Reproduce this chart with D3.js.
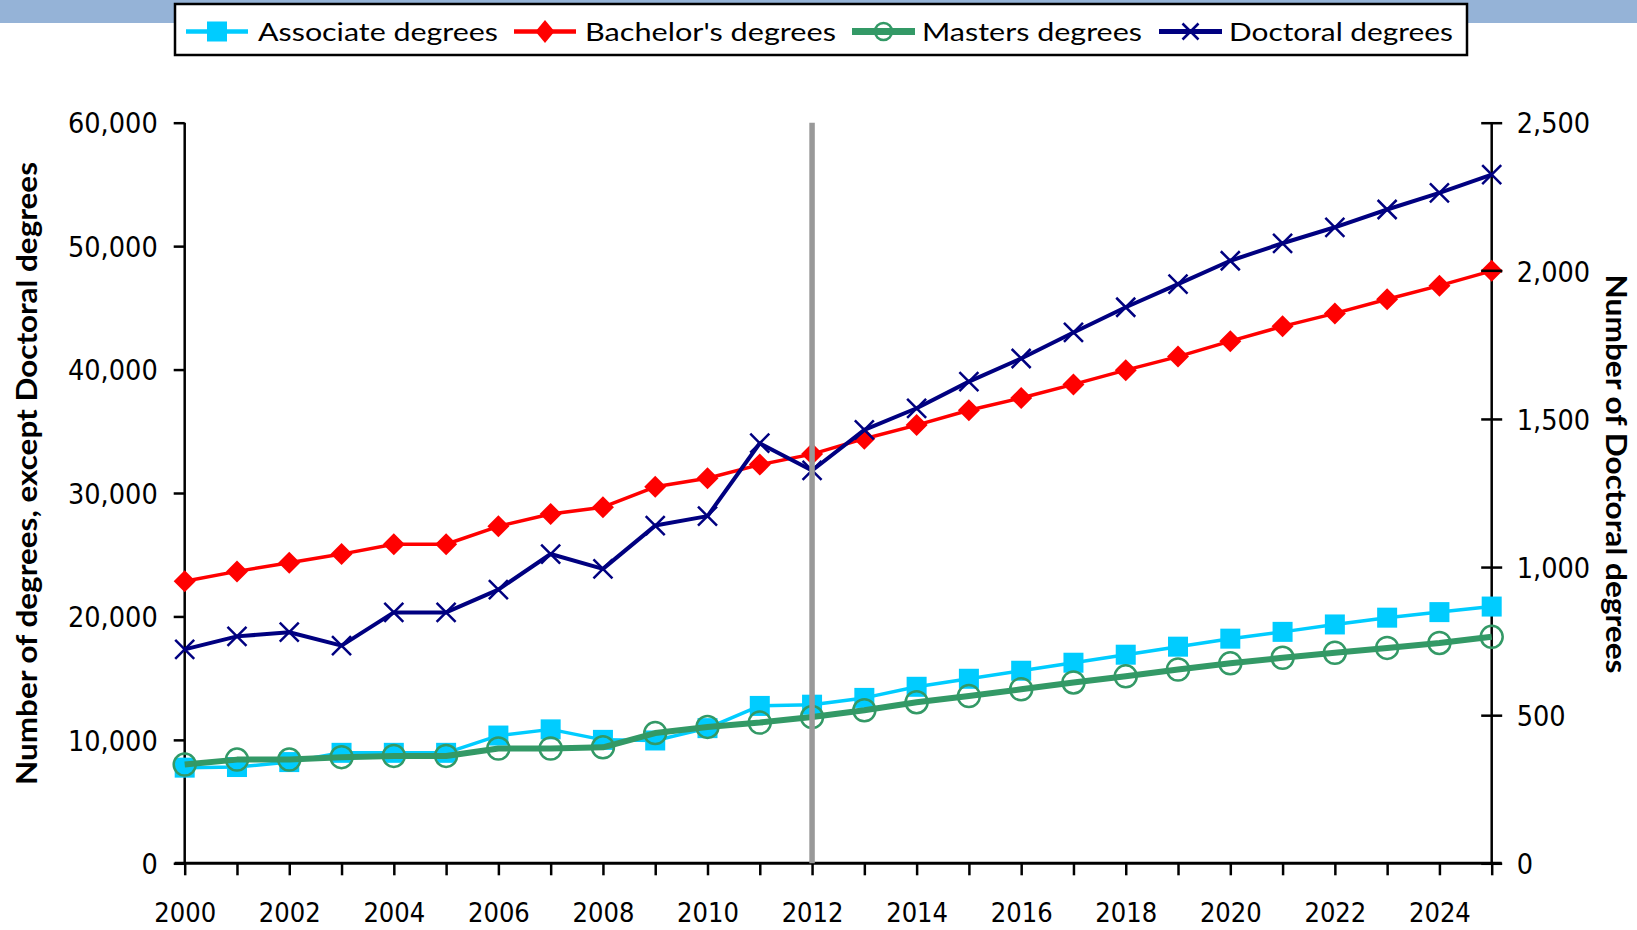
<!DOCTYPE html>
<html>
<head>
<meta charset="utf-8">
<script src="https://cdn.jsdelivr.net/npm/d3@7"></script>
<style>
  html, body { margin: 0; padding: 0; background: #ffffff; }
  svg { display: block; }
  .tick text { font-family: "DejaVu Sans Condensed", "DejaVu Sans", sans-serif; font-stretch: condensed; fill: #000; }
</style>
</head>
<body>
<svg id="chart" width="1637" height="930"></svg>
<script>
// ---------------- DATA ----------------
const years = [2000, 2001, 2002, 2003, 2004, 2005, 2006, 2007, 2008, 2009, 2010, 2011, 2012,
               2013, 2014, 2015, 2016, 2017, 2018, 2019, 2020, 2021, 2022, 2023, 2024, 2025];
const xTickLabels = [2000, 2002, 2004, 2006, 2008, 2010, 2012, 2014, 2016, 2018, 2020, 2022, 2024];
const associateDegrees = [7750, 7800, 8200, 8950, 8950, 8950, 10350, 10850, 10000, 9950, 10950, 12750, 12850,
                          13400, 14300, 14950, 15600, 16250, 16900, 17550, 18200, 18750, 19350, 19900, 20350, 20800];
const bachelorsDegrees = [22850, 23650, 24350, 25050, 25850, 25850, 27300, 28300, 28850, 30500, 31200, 32300, 33150,
                          34400, 35500, 36700, 37700, 38800, 39950, 41050, 42300, 43500, 44550, 45700, 46800, 48000];
const mastersDegrees = [8000, 8400, 8400, 8600, 8700, 8700, 9300, 9300, 9400, 10550, 11050, 11400, 11850,
                        12400, 13050, 13550, 14100, 14650, 15150, 15700, 16200, 16650, 17050, 17450, 17850, 18350];
const doctoralDegrees = [722, 766, 780, 735, 847, 847, 924, 1044, 994, 1140, 1172, 1418, 1326,
                         1463, 1536, 1626, 1704, 1792, 1877, 1955, 2034, 2093, 2147, 2207, 2263, 2325];
const leftTicks = [0, 10000, 20000, 30000, 40000, 50000, 60000];
const rightTicks = [0, 500, 1000, 1500, 2000, 2500];
const markerYear = 2012;
const seriesNames = ["Associate degrees", "Bachelor's degrees", "Masters degrees", "Doctoral degrees"];
const leftTitle = "Number of degrees, except Doctoral degrees";
const rightTitle = "Number of Doctoral degrees";

// ---------------- LAYOUT ----------------
const svg = d3.select("#chart");
const plot = { left: 184.7, right: 1491.7, top: 122.7, bottom: 863.3 };

const x = d3.scaleLinear().domain([2000, 2025]).range([plot.left, plot.right]);
const yL = d3.scaleLinear().domain([0, 60000]).range([plot.bottom, plot.top]);
const yR = d3.scaleLinear().domain([0, 2500]).range([plot.bottom, plot.top]);

const colors = { assoc: "#00CCFF", bach: "#FF0000", mast: "#339966", doct: "#000080" };

// top banner
svg.append("rect").attr("x", 0).attr("y", 0).attr("width", 1637).attr("height", 23).attr("fill", "#95B3D7");

// ---------------- AXES ----------------
const fmt = d3.format(",");
const gL = svg.append("g").attr("transform", `translate(${plot.left},0)`)
  .call(d3.axisLeft(yL).tickValues(leftTicks).tickFormat(fmt).tickSize(11).tickPadding(16));
gL.select(".domain").remove();
gL.selectAll(".tick line").attr("stroke", "#000").attr("stroke-width", 2.5);
gL.selectAll(".tick text").attr("font-size", 28.5).attr("dy", "0.36em");

const gR = svg.append("g").attr("transform", `translate(${plot.right},0)`)
  .call(d3.axisRight(yR).tickValues(rightTicks).tickFormat(fmt).tickSize(0).tickPadding(25));
gR.select(".domain").remove();
gR.selectAll(".tick line").attr("x1", -10.5).attr("x2", 10.5).attr("stroke", "#000").attr("stroke-width", 2.5);
gR.selectAll(".tick text").attr("font-size", 28.5).attr("dy", "0.36em");

const gX = svg.append("g").attr("transform", `translate(0,${plot.bottom})`)
  .call(d3.axisBottom(x).tickValues(years).tickFormat("").tickSize(12));
gX.select(".domain").remove();
gX.selectAll(".tick line").attr("stroke", "#000").attr("stroke-width", 2.5);

const gXL = svg.append("g").attr("transform", `translate(0,${plot.bottom})`)
  .call(d3.axisBottom(x).tickValues(xTickLabels).tickFormat(d3.format("d")).tickSize(0).tickPadding(0));
gXL.select(".domain").remove();
gXL.selectAll(".tick text").attr("font-size", 27).attr("y", 59).attr("dy", 0);

// axis lines
svg.append("line").attr("x1", plot.left).attr("x2", plot.left).attr("y1", plot.top).attr("y2", plot.bottom)
  .attr("stroke", "#000").attr("stroke-width", 2.5);
svg.append("line").attr("x1", plot.right).attr("x2", plot.right).attr("y1", plot.top).attr("y2", plot.bottom)
  .attr("stroke", "#000").attr("stroke-width", 2.5);
svg.append("line").attr("x1", plot.left - 10).attr("x2", plot.right + 10).attr("y1", plot.bottom).attr("y2", plot.bottom)
  .attr("stroke", "#000").attr("stroke-width", 3);

// axis titles
svg.append("text").attr("transform", `translate(37,473.5) rotate(-90)`)
  .attr("text-anchor", "middle").attr("font-family", "Lato, 'Open Sans', sans-serif").attr("font-weight", 700)
  .attr("font-size", 28).attr("textLength", 623).attr("lengthAdjust", "spacingAndGlyphs").text(leftTitle);
svg.append("text").attr("transform", `translate(1606,474) rotate(90)`)
  .attr("text-anchor", "middle").attr("font-family", "Lato, 'Open Sans', sans-serif").attr("font-weight", 700)
  .attr("font-size", 28).attr("textLength", 399).attr("lengthAdjust", "spacingAndGlyphs").text(rightTitle);

// ---------------- SERIES ----------------
function drawSeries(values, yScale, color, width, markerFn) {
  const pts = values.map((v, i) => [x(years[i]), yScale(v)]);
  svg.append("path").attr("d", d3.line()(pts)).attr("fill", "none").attr("stroke", color)
    .attr("stroke-width", width).attr("stroke-linejoin", "round");
  const g = svg.append("g");
  pts.forEach(p => markerFn(g, p[0], p[1]));
}
function square(g, cx, cy, s, color) {
  g.append("rect").attr("x", cx - s / 2).attr("y", cy - s / 2).attr("width", s).attr("height", s).attr("fill", color);
}
function diamond(g, cx, cy, w, h, color) {
  g.append("path").attr("d", `M${cx},${cy - h / 2}L${cx + w / 2},${cy}L${cx},${cy + h / 2}L${cx - w / 2},${cy}Z`).attr("fill", color);
}
function ring(g, cx, cy, r, color) {
  g.append("circle").attr("cx", cx).attr("cy", cy).attr("r", r).attr("fill", "none").attr("stroke", color).attr("stroke-width", 2.5);
}
function cross(g, cx, cy, s, color) {
  g.append("path").attr("d", `M${cx - s},${cy - s}L${cx + s},${cy + s}M${cx - s},${cy + s}L${cx + s},${cy - s}`)
    .attr("stroke", color).attr("stroke-width", 2.5).attr("fill", "none");
}

drawSeries(associateDegrees, yL, colors.assoc, 3.5, (g, cx, cy) => square(g, cx, cy, 20, colors.assoc));
drawSeries(bachelorsDegrees, yL, colors.bach, 3.5, (g, cx, cy) => diamond(g, cx, cy, 22, 22, colors.bach));
drawSeries(mastersDegrees, yL, colors.mast, 6, (g, cx, cy) => ring(g, cx, cy, 11, colors.mast));
drawSeries(doctoralDegrees, yR, colors.doct, 4, (g, cx, cy) => cross(g, cx, cy, 9.5, colors.doct));

// re-draw right-axis tick on top of last diamond (as in reference)
svg.append("line").attr("x1", plot.right - 10.5).attr("x2", plot.right + 10.5).attr("y1", yR(2000)).attr("y2", yR(2000))
  .attr("stroke", "#000").attr("stroke-width", 2.5);

// vertical reference line
svg.append("line").attr("x1", x(markerYear)).attr("x2", x(markerYear)).attr("y1", plot.top).attr("y2", plot.bottom)
  .attr("stroke", "#999999").attr("stroke-width", 5.5);

// ---------------- LEGEND ----------------
const legend = svg.append("g");
legend.append("rect").attr("x", 175).attr("y", 4).attr("width", 1292).attr("height", 51)
  .attr("fill", "#fff").attr("stroke", "#000").attr("stroke-width", 2.5);
const legendItems = [
  { name: seriesNames[0], x0: 186, x1: 248, textX: 258, textW: 240, color: colors.assoc, w: 4.5,
    mk: (g, cx, cy) => square(g, cx, cy, 20, colors.assoc) },
  { name: seriesNames[1], x0: 514, x1: 576, textX: 585, textW: 251, color: colors.bach, w: 4.5,
    mk: (g, cx, cy) => diamond(g, cx, cy, 19, 23, colors.bach) },
  { name: seriesNames[2], x0: 852, x1: 915, textX: 922, textW: 220, color: colors.mast, w: 7,
    mk: (g, cx, cy) => ring(g, cx, cy, 8.5, colors.mast) },
  { name: seriesNames[3], x0: 1159, x1: 1222, textX: 1229, textW: 224, color: colors.doct, w: 5,
    mk: (g, cx, cy) => cross(g, cx, cy, 8, colors.doct) }
];
legendItems.forEach(it => {
  const cy = 31.5;
  legend.append("line").attr("x1", it.x0).attr("x2", it.x1).attr("y1", cy).attr("y2", cy)
    .attr("stroke", it.color).attr("stroke-width", it.w);
  it.mk(legend, (it.x0 + it.x1) / 2, cy);
  legend.append("text").attr("x", it.textX).attr("y", 40.5)
    .attr("font-family", "Lato, 'Open Sans', sans-serif").attr("font-size", 25)
    .attr("textLength", it.textW).attr("lengthAdjust", "spacingAndGlyphs").attr("fill", "#000").text(it.name);
});
</script>
</body>
</html>
